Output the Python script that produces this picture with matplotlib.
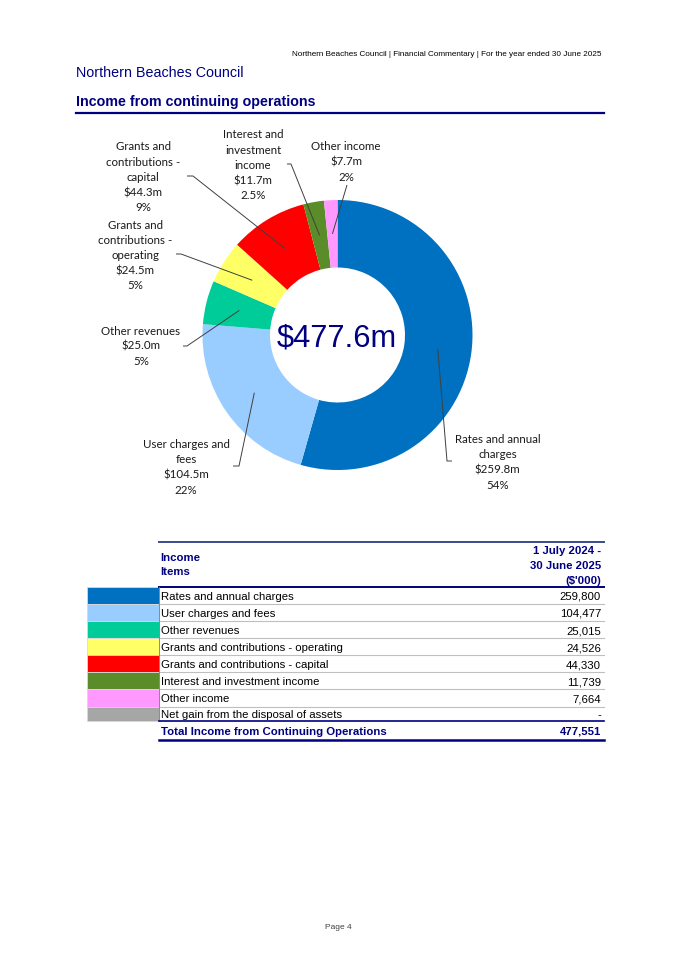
import numpy as np
import matplotlib
matplotlib.use("Agg")
import matplotlib.pyplot as plt

# ---------------- data ----------------
items = ["Rates and annual charges", "User charges and fees", "Other revenues",
         "Grants and contributions - operating", "Grants and contributions - capital",
         "Interest and investment income", "Other income",
         "Net gain from the disposal of assets"]
values = [259800, 104477, 25015, 24526, 44330, 11739, 7664, 0]
value_text = ["259,800", "104,477", "25,015", "24,526", "44,330", "11,739", "7,664", "-"]
pie_names = ["Rates and annual\ncharges", "User charges and\nfees", "Other revenues",
             "Grants and\ncontributions -\noperating", "Grants and\ncontributions -\ncapital",
             "Interest and\ninvestment\nincome", "Other income", ""]
pct_text = ["54%", "22%", "5%", "5%", "9%", "2.5%", "2%", ""]
total_value = 477551
colors = ["#0070C0", "#99CCFF", "#00CC99", "#FFFF66", "#FF0000", "#5B8C2A", "#FF99FF", "#A6A6A6"]

NAVY = "#000080"
W, H = 675, 955
fig = plt.figure(figsize=(W / 100, H / 100), dpi=100)
fig.patch.set_facecolor("white")

# overlay axes in pixel coordinates
ax = fig.add_axes([0, 0, 1, 1])
ax.set_xlim(0, W)
ax.set_ylim(H, 0)
ax.axis("off")
ax.set_zorder(2)
ax.patch.set_alpha(0)

# ---------------- donut ----------------
cx, cy, R = 337.5, 335.0, 135.0
pax = fig.add_axes([(cx - R) / W, 1 - (cy + R) / H, 2 * R / W, 2 * R / H])
pie_vals = [v for v in values if v > 0]
pie_cols = [c for v, c in zip(values, colors) if v > 0]
wedges, _ = pax.pie(pie_vals, colors=pie_cols, startangle=90, counterclock=False,
                    radius=1, wedgeprops=dict(width=0.5, linewidth=0))
pax.set_xlim(-1, 1)
pax.set_ylim(-1, 1)
pax.axis("off")

ax.text(cx - 1, cy + 3, "$%.1fm" % (total_value / 1000), ha="center", va="center",
        fontsize=22.2, color=NAVY, family="Liberation Sans")

# label layout: (text centre x, first-line y, leader-line points from label side)
label_layout = [
    (497.5, 439.5, [(452, 461), (447, 461)]),
    (186, 444.5, [(233, 466), (239, 466)]),
    (141, 331, [(183, 346), (187, 346)]),
    (135, 225, [(176, 254), (181, 254)]),
    (143, 147, [(187, 176), (193, 176)]),
    (253, 135, [(287, 164), (291, 164)]),
    (346, 147, [(347, 185)]),
]
lh = 15.2
for i, w in enumerate(wedges):
    mid = np.deg2rad((w.theta1 + w.theta2) / 2)
    axp, ayp = cx + 0.75 * R * np.cos(mid), cy - 0.75 * R * np.sin(mid)
    tx, ty, pts = label_layout[i]
    xs = [p[0] for p in pts] + [axp]
    ys = [p[1] for p in pts] + [ayp]
    ax.plot(xs, ys, color="#404040", lw=0.7, solid_capstyle="butt")
    lines = pie_names[i].split("\n") + ["$%.1fm" % (values[i] / 1000), pct_text[i]]
    for k, line in enumerate(lines):
        ax.text(tx, ty + k * lh, line, ha="center", va="center", fontsize=8.3,
                family="Lato", color="#1A1A1A")

# ---------------- page texts ----------------
ax.text(601, 55, "Northern Beaches Council | Financial Commentary | For the year ended 30 June 2025",
        ha="right", va="center", fontsize=5.85, family="Liberation Sans", color="black")
ax.text(76, 73, "Northern Beaches Council", ha="left", va="center", fontsize=10.3,
        family="Liberation Sans", color=NAVY)
ax.text(76, 102, "Income from continuing operations", ha="left", va="center", fontsize=10.3,
        family="Liberation Sans", weight="bold", color=NAVY)
ax.plot([76, 604], [113, 113], color=NAVY, lw=1.6)
ax.text(338, 927, "Page 4", ha="center", va="center", fontsize=6,
        family="Liberation Sans", color="#404040")

# ---------------- table ----------------
tl, tr, vx = 159, 604, 601
ax.plot([tl, tr], [542, 542], color="#3A4A8A", lw=1.4)
ax.text(160, 558, "Income", ha="left", va="center", fontsize=8.2, weight="bold",
        family="Liberation Sans", color=NAVY)
ax.text(160, 572, "Items", ha="left", va="center", fontsize=8.2, weight="bold",
        family="Liberation Sans", color=NAVY)
for k, line in enumerate(["1 July 2024 -", "30 June 2025", "($'000)"]):
    ax.text(vx, 551 + k * 14.8, line, ha="right", va="center", fontsize=8.2, weight="bold",
            family="Liberation Sans", color=NAVY)
ax.plot([tl, tr], [587.3, 587.3], color=NAVY, lw=1.4)

bounds = [587.3, 604, 621.3, 638.3, 655.3, 672.3, 689.3, 706.7, 720.7]
for i, name in enumerate(items):
    y0, y1 = bounds[i], bounds[i + 1]
    ax.add_patch(plt.Rectangle((87, y0), tl - 87, y1 - y0, facecolor=colors[i],
                               edgecolor="#D9D9D9", lw=0.6))
    yc = (y0 + y1) / 2 + 1.3
    ax.text(161, yc, name, ha="left", va="center", fontsize=8.2,
            family="Liberation Sans", color="black")
    ax.text(vx, yc, value_text[i], ha="right", va="center", fontsize=8.2,
            family="Liberation Sans", color="black")
    if i < len(items) - 1:
        ax.plot([tl, tr], [y1, y1], color="#BFBFBF", lw=0.8)
ax.plot([tl, tl], [587.3, 720.7], color="#7F7F7F", lw=0.6)
ax.plot([tl, tr], [720.7, 720.7], color=NAVY, lw=1.2)
ax.text(161, 731.5, "Total Income from Continuing Operations", ha="left", va="center",
        fontsize=8.2, weight="bold", family="Liberation Sans", color=NAVY)
ax.text(vx, 731.5, "{:,}".format(total_value), ha="right", va="center",
        fontsize=8.2, weight="bold", family="Liberation Sans", color=NAVY)
ax.plot([tl, tr], [739.5, 739.5], color=NAVY, lw=1.8)

fig.savefig("out.png", dpi=100, facecolor="white")
